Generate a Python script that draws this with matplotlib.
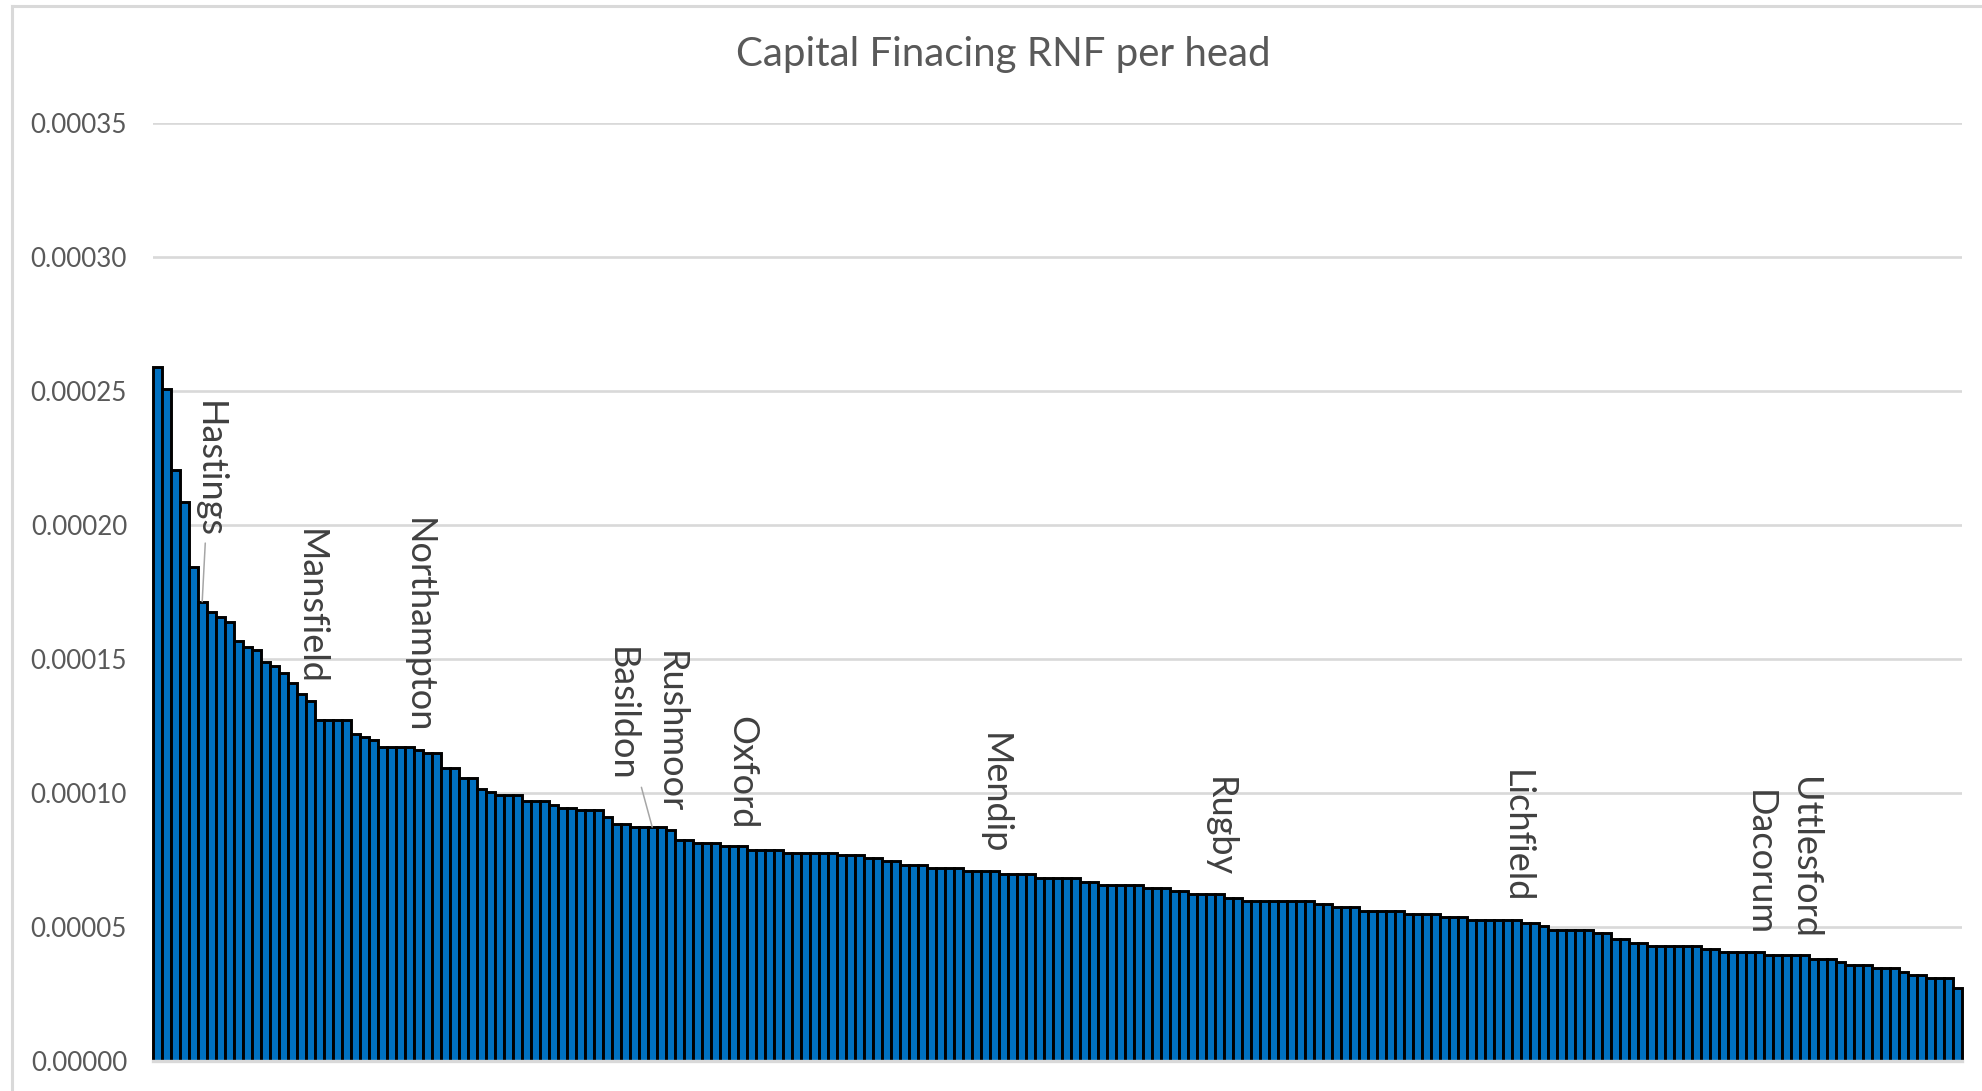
import numpy as np
import matplotlib.pyplot as plt
from matplotlib.lines import Line2D
from matplotlib.ticker import FormatStrFormatter

# ---- Data: Capital Financing RNF per head, sorted high -> low (values x 1e-5) ----
rnf_e5 = [
    25.90, 25.06, 22.04, 20.84, 18.45, 17.14, 16.76, 16.56, 16.39, 15.68,
    15.46, 15.33, 14.87, 14.75, 14.48, 14.12, 13.68, 13.43, 12.72, 12.72,
    12.72, 12.72, 12.22, 12.09, 11.99, 11.72, 11.72, 11.72, 11.72, 11.62,
    11.49, 11.49, 10.92, 10.92, 10.55, 10.55, 10.15, 10.05, 9.94, 9.94,
    9.94, 9.72, 9.72, 9.72, 9.56, 9.45, 9.45, 9.35, 9.35, 9.35,
    9.12, 8.85, 8.85, 8.73, 8.73, 8.73, 8.73, 8.63, 8.25, 8.25,
    8.14, 8.14, 8.14, 8.01, 8.01, 8.01, 7.88, 7.88, 7.88, 7.88,
    7.75, 7.75, 7.75, 7.75, 7.75, 7.75, 7.68, 7.68, 7.68, 7.57,
    7.57, 7.45, 7.45, 7.30, 7.30, 7.30, 7.19, 7.19, 7.19, 7.19,
    7.08, 7.08, 7.08, 7.08, 6.97, 6.97, 6.97, 6.97, 6.83, 6.83,
    6.83, 6.83, 6.83, 6.68, 6.68, 6.58, 6.58, 6.58, 6.58, 6.58,
    6.47, 6.47, 6.47, 6.35, 6.35, 6.24, 6.24, 6.24, 6.24, 6.10,
    6.10, 5.98, 5.98, 5.98, 5.98, 5.98, 5.98, 5.98, 5.98, 5.87,
    5.87, 5.76, 5.76, 5.76, 5.61, 5.61, 5.61, 5.61, 5.61, 5.50,
    5.50, 5.50, 5.50, 5.39, 5.39, 5.39, 5.26, 5.26, 5.26, 5.26,
    5.26, 5.26, 5.15, 5.15, 5.02, 4.90, 4.90, 4.90, 4.90, 4.90,
    4.77, 4.77, 4.55, 4.55, 4.40, 4.40, 4.30, 4.30, 4.30, 4.30,
    4.30, 4.30, 4.17, 4.17, 4.05, 4.05, 4.05, 4.05, 4.05, 3.94,
    3.94, 3.94, 3.94, 3.94, 3.80, 3.80, 3.80, 3.70, 3.58, 3.58,
    3.58, 3.47, 3.47, 3.47, 3.33, 3.20, 3.20, 3.09, 3.09, 3.09,
    2.72,
]
rnf = np.array(rnf_e5) * 1e-5

# named districts (position in the sorted list)
label_names = ["Mansfield", "Northampton", "Rushmoor", "Oxford", "Mendip",
               "Rugby", "Lichfield", "Dacorum", "Uttlesford"]
label_idx = [17, 29, 57, 65, 93, 118, 151, 178, 183]

# labels moved off their bar, joined by a leader line
moved_names = ["Hastings", "Basildon"]
moved_idx = [5, 55]

yticks = [0.0, 0.00005, 0.00010, 0.00015, 0.00020, 0.00025, 0.00030, 0.00035]

# ---- Plot ----
W, H = 1983, 1091
fig = plt.figure(figsize=(W / 100, H / 100), dpi=100)
plt.rcParams['font.family'] = ['Lato', 'DejaVu Sans']

ax = fig.add_axes([152.7 / W, 30 / H, 1809 / W, 938 / H])
x = np.arange(len(rnf))
ax.bar(x, rnf, width=1.0, color='#0070C0', edgecolor='black', linewidth=2.1,
       zorder=3, clip_on=False)

ax.set_xlim(-0.5, len(rnf) - 0.5)
ax.set_ylim(0, 0.00035)
ax.set_yticks(yticks)
ax.yaxis.set_major_formatter(FormatStrFormatter('%.5f'))
ax.set_xticks([])
ax.tick_params(axis='y', length=0, pad=18.5, labelsize=18.7, labelcolor='#595959')
ax.grid(axis='y', color='#d9d9d9', linewidth=1.9, zorder=0)
ax.set_axisbelow(True)
for side in ['top', 'right', 'left']:
    ax.spines[side].set_visible(False)
ax.spines['bottom'].set_color('#d9d9d9')
ax.spines['bottom'].set_linewidth(2.4)
ax.spines['bottom'].set_zorder(4)

# data labels above their bars
for name, i in zip(label_names, label_idx):
    ax.annotate(name, xy=(i, rnf[i]), xytext=(0, 12), textcoords='offset points',
                rotation=270, ha='center', va='bottom', fontsize=26, color='#404040')

# labels with leader lines
moved_offset = [(5, 95.5), (-22, 81)]
for name, i, off in zip(moved_names, moved_idx, moved_offset):
    ax.annotate(name, xy=(i, rnf[i]), xytext=off, textcoords='offset points',
                rotation=270, ha='center', va='center', fontsize=26, color='#404040',
                arrowprops=dict(arrowstyle='-', color='#a6a6a6', lw=1.1,
                                shrinkA=2, shrinkB=0))

fig.text(1003.5 / W, 1 - 66 / H, "Capital Finacing RNF per head", ha='center',
         va='baseline', fontsize=29, color='#595959')

# chart area border (left + top)
fig.add_artist(Line2D([12.5 / W, 12.5 / W], [0, 1 - 5.5 / H], color='#d9d9d9', lw=2.2))
fig.add_artist(Line2D([12.5 / W, 1], [1 - 5.5 / H, 1 - 5.5 / H], color='#d9d9d9', lw=2.2))

fig.savefig("out.png", dpi=100)
plt.close(fig)
